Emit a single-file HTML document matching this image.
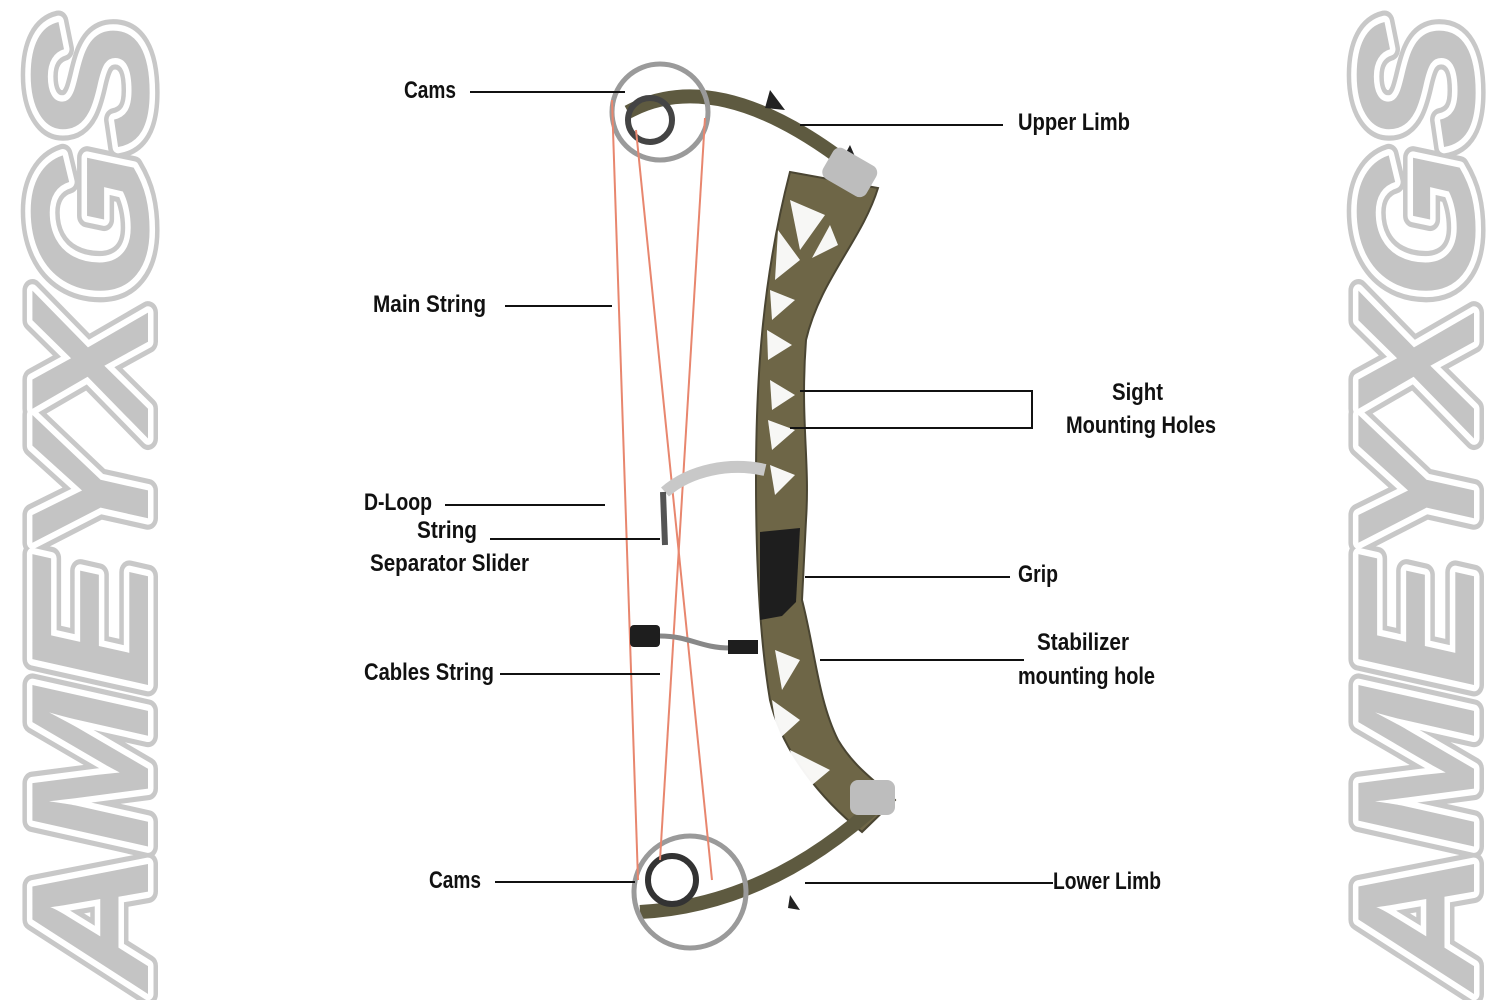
<!DOCTYPE html>
<html><head><meta charset="utf-8"><style>
html,body{margin:0;padding:0;background:#fff;width:1500px;height:1000px;overflow:hidden}
svg{display:block}
.l{font-family:"Liberation Sans Narrow","Liberation Sans",sans-serif;font-weight:bold;font-size:24px;fill:#111}
.w{font-family:"Liberation Sans","DejaVu Sans",sans-serif;font-weight:900;font-style:italic;font-size:168px;fill:#c4c4c4;paint-order:stroke;stroke-linejoin:round}
</style></head><body>
<svg width="1500" height="1000" viewBox="0 0 1500 1000" xmlns="http://www.w3.org/2000/svg">
<!-- watermarks -->
<g transform="translate(148,990) rotate(-90)">
<text class="w" x="0" y="0" textLength="970" lengthAdjust="spacingAndGlyphs" stroke="#c8c8c8" stroke-width="20">AMEYXGS</text>
<text class="w" x="0" y="0" textLength="970" lengthAdjust="spacingAndGlyphs" stroke="#fff" stroke-width="11">AMEYXGS</text>
</g>
<g transform="translate(1474,990) rotate(-90)">
<text class="w" x="0" y="0" textLength="970" lengthAdjust="spacingAndGlyphs" stroke="#c8c8c8" stroke-width="20">AMEYXGS</text>
<text class="w" x="0" y="0" textLength="970" lengthAdjust="spacingAndGlyphs" stroke="#fff" stroke-width="11">AMEYXGS</text>
</g>

<!-- bow -->
<g>
<path d="M790,172 L878,188 C862,240 820,280 806,340 C800,420 810,460 806,520 L802,600 C815,650 818,700 838,740 C856,770 878,782 895,800 L862,832 C822,800 782,752 770,700 C760,640 756,560 756,480 C756,380 762,280 790,172 Z" fill="#6e6647" stroke="#4a4532" stroke-width="2"/>
<g fill="#fff" opacity="0.95">
<path d="M790,200 L825,215 L800,250 Z"/><path d="M778,230 L800,260 L775,280 Z"/><path d="M830,225 L838,245 L812,258 Z"/>
<path d="M770,290 L795,300 L772,320 Z"/><path d="M767,330 L792,345 L768,360 Z"/><path d="M770,380 L795,395 L772,410 Z"/>
<path d="M768,420 L795,430 L772,450 Z"/><path d="M770,465 L795,475 L775,495 Z"/>
<path d="M775,650 L800,660 L782,690 Z"/><path d="M772,700 L800,720 L778,740 Z"/><path d="M790,750 L830,770 L800,795 Z"/>
</g>
<path d="M760,532 L800,528 L796,602 L782,616 L760,620 Z" fill="#1e1e1e"/>
<path d="M628,112 Q720,62 858,172" fill="none" stroke="#5e5a40" stroke-width="14"/>
<path d="M640,912 Q770,905 882,800" fill="none" stroke="#5e5a40" stroke-width="14"/>
<path d="M770,90 L785,110 L765,108 Z M850,145 L860,168 L842,160 Z M790,895 L800,910 L788,908 Z" fill="#222"/>
<rect x="825" y="155" width="50" height="35" rx="8" fill="#bdbdbd" transform="rotate(30 850 172)"/>
<rect x="850" y="780" width="45" height="35" rx="8" fill="#bdbdbd"/>
<circle cx="660" cy="112" r="48" fill="none" stroke="#9a9a9a" stroke-width="5"/>
<circle cx="650" cy="120" r="22" fill="none" stroke="#444" stroke-width="6"/>
<circle cx="690" cy="892" r="56" fill="none" stroke="#9a9a9a" stroke-width="5"/>
<circle cx="672" cy="880" r="24" fill="none" stroke="#333" stroke-width="6"/>
<g stroke="#e8866e" stroke-width="2" fill="none">
<line x1="612" y1="100" x2="638" y2="880"/>
<line x1="636" y1="130" x2="712" y2="880"/>
<line x1="705" y1="118" x2="660" y2="860"/>
</g>
<path d="M665,492 C690,470 730,462 765,470" fill="none" stroke="#c8c8c8" stroke-width="12"/>
<line x1="663" y1="492" x2="665" y2="545" stroke="#555" stroke-width="6"/>
<rect x="630" y="625" width="30" height="22" rx="4" fill="#1e1e1e"/>
<path d="M660,636 C690,636 700,648 730,648" fill="none" stroke="#888" stroke-width="5"/>
<rect x="728" y="640" width="30" height="14" fill="#1e1e1e"/>
</g>

<g stroke="#111" stroke-width="2" fill="none">
<line x1="470" y1="92" x2="625" y2="92"/>
<line x1="800" y1="125" x2="1003" y2="125"/>
<line x1="505" y1="306" x2="612" y2="306"/>
<polyline points="800,391 1032,391 1032,428 790,428"/>
<line x1="445" y1="505" x2="605" y2="505"/>
<line x1="490" y1="539" x2="660" y2="539"/>
<line x1="805" y1="577" x2="1010" y2="577"/>
<line x1="820" y1="660" x2="1024" y2="660"/>
<line x1="500" y1="674" x2="660" y2="674"/>
<line x1="495" y1="882" x2="635" y2="882"/>
<line x1="805" y1="883" x2="1053" y2="883"/>
</g>

<text class="l" x="404" y="98" textLength="52" lengthAdjust="spacingAndGlyphs">Cams</text>
<text class="l" x="1018" y="130" textLength="112" lengthAdjust="spacingAndGlyphs">Upper Limb</text>
<text class="l" x="373" y="312" textLength="113" lengthAdjust="spacingAndGlyphs">Main String</text>
<text class="l" x="1112" y="400" textLength="51" lengthAdjust="spacingAndGlyphs">Sight</text>
<text class="l" x="1066" y="433" textLength="150" lengthAdjust="spacingAndGlyphs">Mounting Holes</text>
<text class="l" x="364" y="510" textLength="68" lengthAdjust="spacingAndGlyphs">D-Loop</text>
<text class="l" x="417" y="538" textLength="60" lengthAdjust="spacingAndGlyphs">String</text>
<text class="l" x="370" y="571" textLength="159" lengthAdjust="spacingAndGlyphs">Separator Slider</text>
<text class="l" x="1018" y="582" textLength="40" lengthAdjust="spacingAndGlyphs">Grip</text>
<text class="l" x="1037" y="650" textLength="92" lengthAdjust="spacingAndGlyphs">Stabilizer</text>
<text class="l" x="1018" y="684" textLength="137" lengthAdjust="spacingAndGlyphs">mounting hole</text>
<text class="l" x="364" y="680" textLength="130" lengthAdjust="spacingAndGlyphs">Cables String</text>
<text class="l" x="429" y="888" textLength="52" lengthAdjust="spacingAndGlyphs">Cams</text>
<text class="l" x="1053" y="889" textLength="108" lengthAdjust="spacingAndGlyphs">Lower Limb</text>
</svg>
</body></html>
